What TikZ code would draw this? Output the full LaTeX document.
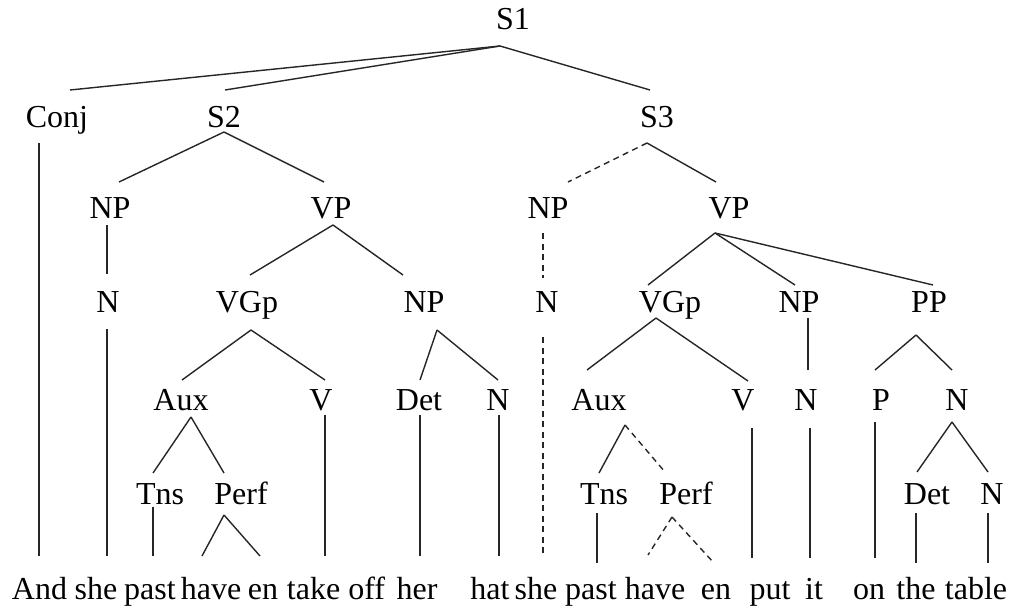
\documentclass[tikz,border=0pt]{standalone}
\usepackage{fontspec}
\setmainfont{Liberation Serif}
\begin{document}
\begin{tikzpicture}[x=1pt,y=-1pt,
  lbl/.style={anchor=base,inner sep=0pt,font=\fontsize{32}{38}\selectfont},
  word/.style={anchor=base,inner sep=0pt,font=\fontsize{32}{38}\selectfont},
  branch/.style={line width=1.4pt,draw=black!85},
  gapline/.style={branch,dash pattern=on 6pt off 4.5pt}]
\useasboundingbox (0,0) rectangle (1016,607);

% ---- category labels ----
\node[lbl] (S1) at (513,30) {S1};
\node[lbl] (Conj) at (57,127) {Conj};
\node[lbl] (S2) at (224,127) {S2};
\node[lbl] (S3) at (657,127) {S3};
\node[lbl] (NP1) at (110,218) {NP};
\node[lbl] (VP1) at (331,218) {VP};
\node[lbl] (NP3) at (548,218) {NP};
\node[lbl] (VP3) at (729,218) {VP};
\node[lbl] (N1) at (108,312) {N};
\node[lbl] (VGp1) at (247,312) {VGp};
\node[lbl] (NP2) at (424,312) {NP};
\node[lbl] (N3) at (547,312) {N};
\node[lbl] (VGp2) at (670,312) {VGp};
\node[lbl] (NP4) at (799,312) {NP};
\node[lbl] (PP) at (929,312) {PP};
\node[lbl] (Aux1) at (181,410) {Aux};
\node[lbl] (V1) at (321,410) {V};
\node[lbl] (Det1) at (419,410) {Det};
\node[lbl] (N2) at (498,410) {N};
\node[lbl] (Aux2) at (599,410) {Aux};
\node[lbl] (V2) at (743,410) {V};
\node[lbl] (N4) at (806,410) {N};
\node[lbl] (P) at (881,410) {P};
\node[lbl] (N5) at (957,410) {N};
\node[lbl] (Tns1) at (160,504) {Tns};
\node[lbl] (Perf1) at (241,504) {Perf};
\node[lbl] (Tns2) at (604,504) {Tns};
\node[lbl] (Perf2) at (686,504) {Perf};
\node[lbl] (Det2) at (927,504) {Det};
\node[lbl] (N6) at (992,504) {N};

% ---- terminal string ----
\node[word] (wAnd) at (39.5,599) {And};
\node[word] (wshe1) at (96,599) {she};
\node[word] (wpast1) at (150,599) {past};
\node[word] (whave1) at (211,599) {have};
\node[word] (wen1) at (263,599) {en};
\node[word] (wtake) at (336,599) {take off};
\node[word] (wher) at (417,599) {her};
\node[word] (what) at (490,599) {hat};
\node[word] (wshe2) at (536,599) {she};
\node[word] (wpast2) at (591,599) {past};
\node[word] (whave2) at (655,599) {have};
\node[word] (wen2) at (716,599) {en};
\node[word] (wput) at (770,599) {put};
\node[word] (wit) at (814,599) {it};
\node[word] (won) at (869,599) {on};
\node[word] (wthe) at (916,599) {the};
\node[word] (wtable) at (976,599) {table};

% ---- attachment points (t = top of a branch, b = its fork) ----
\coordinate (S1-b) at (500,46);
\coordinate (Conj-t) at (70,90);   \coordinate (Conj-b) at (39,143);
\coordinate (S2-t) at (225,90);    \coordinate (S2-b) at (224,132);
\coordinate (S3-t) at (650,90);    \coordinate (S3-b) at (647,143);
\coordinate (NP1-t) at (119,182);  \coordinate (NP1-b) at (107,225);
\coordinate (VP1-t) at (324,182);  \coordinate (VP1-b) at (333,225);
\coordinate (NP3-t) at (568,182);  \coordinate (NP3-b) at (543,233);
\coordinate (VP3-t) at (716,182);  \coordinate (VP3-b) at (715,233);
\coordinate (N1-t) at (107,274);   \coordinate (N1-b) at (107,329);
\coordinate (VGp1-t) at (250,275); \coordinate (VGp1-b) at (251,330);
\coordinate (NP2-t) at (403,275);  \coordinate (NP2-b) at (437,330);
\coordinate (N3-t) at (543,278);   \coordinate (N3-b) at (543,337);
\coordinate (VGp2-t) at (648,285); \coordinate (VGp2-b) at (656,318);
\coordinate (NP4-t) at (795,285);  \coordinate (NP4-b) at (808,318);
\coordinate (PP-t) at (933,285);   \coordinate (PP-b) at (916,335);
\coordinate (Aux1-t) at (182,380); \coordinate (Aux1-b) at (191,417);
\coordinate (V1-t) at (325,380);   \coordinate (V1-b) at (325,415);
\coordinate (Det1-t) at (420,380); \coordinate (Det1-b) at (420,415);
\coordinate (N2-t) at (498,380);   \coordinate (N2-b) at (499,415);
\coordinate (Aux2-t) at (587,370); \coordinate (Aux2-b) at (625,425);
\coordinate (V2-t) at (748,381);   \coordinate (V2-b) at (752,428);
\coordinate (N4-t) at (808,370);   \coordinate (N4-b) at (810,428);
\coordinate (P-t) at (875,370);    \coordinate (P-b) at (875,422);
\coordinate (N5-t) at (952,370);   \coordinate (N5-b) at (952,422);
\coordinate (Tns1-t) at (153,473); \coordinate (Tns1-b) at (153,507);
\coordinate (Perf1-t) at (224,473);\coordinate (Perf1-b) at (224,515);
\coordinate (Tns2-t) at (599,473); \coordinate (Tns2-b) at (597,513);
\coordinate (Perf2-t) at (665,472);\coordinate (Perf2-b) at (672,517);
\coordinate (Det2-t) at (917,472); \coordinate (Det2-b) at (916,513);
\coordinate (N6-t) at (988,472);   \coordinate (N6-b) at (988,513);
\coordinate (wAnd-t) at (39,556);
\coordinate (wshe1-t) at (107,556);
\coordinate (wpast1-t) at (153,556);
\coordinate (whave1-t) at (202,556);
\coordinate (wen1-t) at (260,556);
\coordinate (wtake-t) at (325,556);
\coordinate (wher-t) at (420,556);
\coordinate (what-t) at (499,556);
\coordinate (wshe2-t) at (543,553);
\coordinate (wpast2-t) at (597,563);
\coordinate (whave2-t) at (648,555);
\coordinate (wen2-t) at (713,562);
\coordinate (wput-t) at (752,558);
\coordinate (wit-t) at (810,558);
\coordinate (won-t) at (875,558);
\coordinate (wthe-t) at (916,563);
\coordinate (wtable-t) at (988,563);

% ---- branches: first clause ----
\draw[branch] (S1-b) -- (Conj-t);
\draw[branch] (S1-b) -- (S2-t);
\draw[branch] (S1-b) -- (S3-t);
\draw[branch] (Conj-b) -- (wAnd-t);
\draw[branch] (S2-b) -- (NP1-t);
\draw[branch] (S2-b) -- (VP1-t);
\draw[branch] (NP1-b) -- (N1-t);
\draw[branch] (N1-b) -- (wshe1-t);
\draw[branch] (VP1-b) -- (VGp1-t);
\draw[branch] (VP1-b) -- (NP2-t);
\draw[branch] (VGp1-b) -- (Aux1-t);
\draw[branch] (VGp1-b) -- (V1-t);
\draw[branch] (NP2-b) -- (Det1-t);
\draw[branch] (NP2-b) -- (N2-t);
\draw[branch] (Aux1-b) -- (Tns1-t);
\draw[branch] (Aux1-b) -- (Perf1-t);
\draw[branch] (Tns1-b) -- (wpast1-t);
\draw[branch] (Perf1-b) -- (whave1-t);
\draw[branch] (Perf1-b) -- (wen1-t);
\draw[branch] (V1-b) -- (wtake-t);
\draw[branch] (Det1-b) -- (wher-t);
\draw[branch] (N2-b) -- (what-t);

% ---- branches: second clause ----
\draw[gapline] (S3-b) -- (NP3-t);
\draw[branch] (S3-b) -- (VP3-t);
\draw[gapline] (NP3-b) -- (N3-t);
\draw[gapline] (N3-b) -- (wshe2-t);
\draw[branch] (VP3-b) -- (VGp2-t);
\draw[branch] (VP3-b) -- (NP4-t);
\draw[branch] (VP3-b) -- (PP-t);
\draw[branch] (VGp2-b) -- (Aux2-t);
\draw[branch] (VGp2-b) -- (V2-t);
\draw[branch] (NP4-b) -- (N4-t);
\draw[branch] (PP-b) -- (P-t);
\draw[branch] (PP-b) -- (N5-t);
\draw[branch] (Aux2-b) -- (Tns2-t);
\draw[gapline] (Aux2-b) -- (Perf2-t);
\draw[branch] (Tns2-b) -- (wpast2-t);
\draw[gapline] (Perf2-b) -- (whave2-t);
\draw[gapline] (Perf2-b) -- (wen2-t);
\draw[branch] (V2-b) -- (wput-t);
\draw[branch] (N4-b) -- (wit-t);
\draw[branch] (P-b) -- (won-t);
\draw[branch] (N5-b) -- (Det2-t);
\draw[branch] (N5-b) -- (N6-t);
\draw[branch] (Det2-b) -- (wthe-t);
\draw[branch] (N6-b) -- (wtable-t);
\end{tikzpicture}
\end{document}
